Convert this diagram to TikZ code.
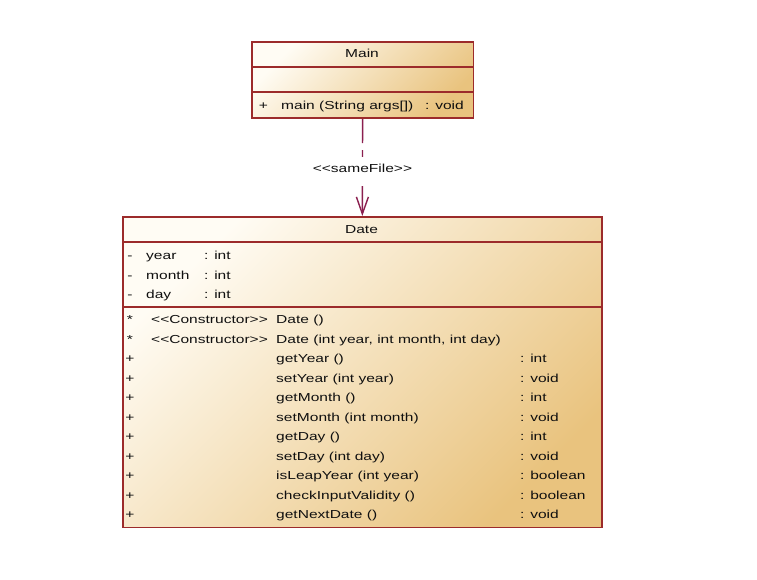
\documentclass[tikz,border=0pt]{standalone}
\usepackage{fontspec}
\newfontfamily\umlfont{Liberation Sans}[FakeStretch=1.34]
\usetikzlibrary{arrows.meta}
\definecolor{umlborder}{HTML}{9C2B2B}
\definecolor{umllight}{HTML}{FFFCF4}
\definecolor{umldark}{HTML}{E9C37E}
\definecolor{umlmid}{HTML}{F6E2BC}
\definecolor{deplink}{HTML}{8B1F4F}
\definecolor{umltext}{HTML}{101010}
\tikzset{
  classbox/.style={draw=umlborder, line width=1.7pt, top color=umllight, middle color=umlmid, bottom color=umldark, shading angle=45, inner sep=0pt, anchor=north west},
  divider/.style={draw=umlborder, line width=1.7pt},
  txt/.style={anchor=base west, inner sep=0pt, text=umltext},
  ctxt/.style={anchor=base, inner sep=0pt, text=umltext},
  dep/.style={draw=deplink, line width=1.4pt, dash pattern=on 24pt off 7pt on 200pt off 1pt, -{Straight Barb[length=17pt,width=12pt]}},
  deplabel/.style={fill=white, inner xsep=1pt, inner ysep=0pt, text height=15pt, text depth=14pt, text=umltext},
}
\begin{document}
\begin{tikzpicture}[x=1pt,y=-1pt,font=\umlfont\fontsize{11.6pt}{14pt}\selectfont]
\useasboundingbox[fill=white] (0,0) rectangle (757,579);
% Main class
\node[classbox, minimum width=221.5pt, minimum height=76.3pt] (main) at (251,41) {};
\draw[divider] (251,66.7) -- (472.5,66.7);
\draw[divider] (251,92.3) -- (472.5,92.3);
\node[ctxt] (mainname) at (362,57.7) {Main};
\node[ctxt] (mvis) at (263.3,109) {+};
\node[txt] (mop) at (281,109) {main (String args[])};
\node[txt] (mret) at (425,109) {: void};
% Date class
\node[classbox, minimum width=479pt, minimum height=310.5pt] (date) at (122,216) {};
\draw[divider] (122,242.3) -- (601,242.3);
\draw[divider] (122,306.8) -- (601,306.8);
\node[ctxt] (datename) at (361.5,233) {Date};
% attributes
\node[ctxt] (av1) at (130,259.5) {-};
\node[txt] (an1) at (146,259.5) {year};
\node[txt] (at1) at (204,259.5) {: int};
\node[ctxt] (av2) at (130,279) {-};
\node[txt] (an2) at (146,279) {month};
\node[txt] (at2) at (204,279) {: int};
\node[ctxt] (av3) at (130,298.5) {-};
\node[txt] (an3) at (146,298.5) {day};
\node[txt] (at3) at (204,298.5) {: int};
% operations
\node[ctxt] (ov1) at (130,323.5) {*};
\node[txt] (os1) at (151,323.5) {<<Constructor>>};
\node[txt] (on1) at (276,323.5) {Date ()};
\node[ctxt] (ov2) at (130,343) {*};
\node[txt] (os2) at (151,343) {<<Constructor>>};
\node[txt] (on2) at (276,343) {Date (int year, int month, int day)};
\node[ctxt] (ov3) at (130,362.5) {+};
\node[txt] (on3) at (276,362.5) {getYear ()};
\node[txt] (or3) at (520,362.5) {: int};
\node[ctxt] (ov4) at (130,382) {+};
\node[txt] (on4) at (276,382) {setYear (int year)};
\node[txt] (or4) at (520,382) {: void};
\node[ctxt] (ov5) at (130,401.5) {+};
\node[txt] (on5) at (276,401.5) {getMonth ()};
\node[txt] (or5) at (520,401.5) {: int};
\node[ctxt] (ov6) at (130,421) {+};
\node[txt] (on6) at (276,421) {setMonth (int month)};
\node[txt] (or6) at (520,421) {: void};
\node[ctxt] (ov7) at (130,440.5) {+};
\node[txt] (on7) at (276,440.5) {getDay ()};
\node[txt] (or7) at (520,440.5) {: int};
\node[ctxt] (ov8) at (130,460) {+};
\node[txt] (on8) at (276,460) {setDay (int day)};
\node[txt] (or8) at (520,460) {: void};
\node[ctxt] (ov9) at (130,479.5) {+};
\node[txt] (on9) at (276,479.5) {isLeapYear (int year)};
\node[txt] (or9) at (520,479.5) {: boolean};
\node[ctxt] (ov10) at (130,499) {+};
\node[txt] (on10) at (276,499) {checkInputValidity ()};
\node[txt] (or10) at (520,499) {: boolean};
\node[ctxt] (ov11) at (130,518.5) {+};
\node[txt] (on11) at (276,518.5) {getNextDate ()};
\node[txt] (or11) at (520,518.5) {: void};
% dependency
\draw[dep] (main.south) -- node[deplabel, pos=0.546] (lbl) {<<sameFile>>} (date.north);
\end{tikzpicture}
\end{document}
